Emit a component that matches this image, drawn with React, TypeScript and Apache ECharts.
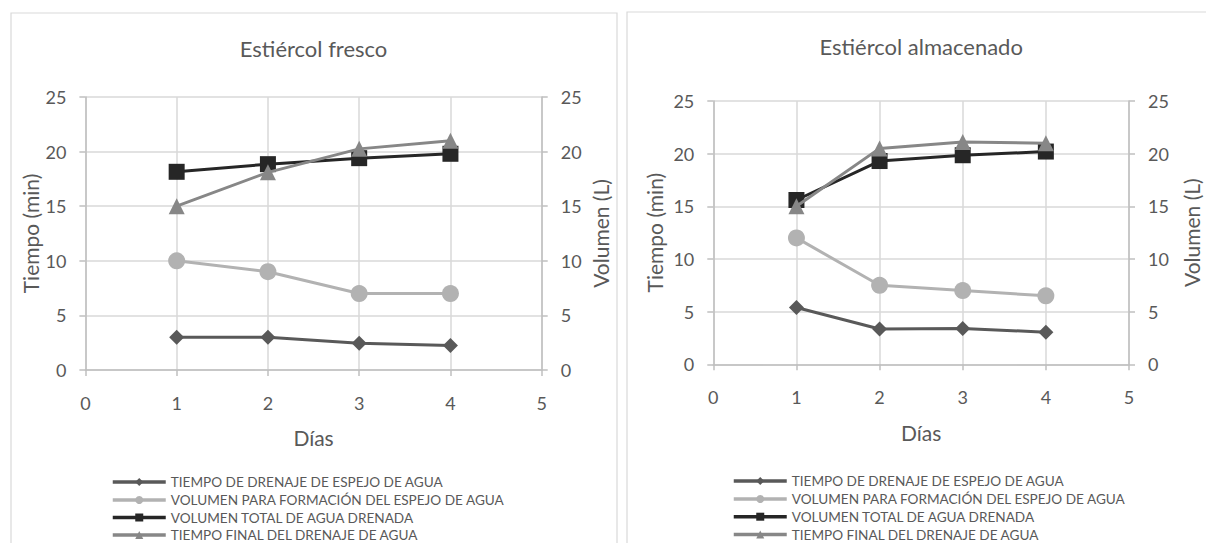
import React, { useEffect, useRef } from "react";
import * as echarts from "echarts";

const days = [1, 2, 3, 4];
const seriesNames = [
  "TIEMPO DE DRENAJE DE ESPEJO DE AGUA",
  "VOLUMEN PARA FORMACIÓN DEL ESPEJO DE AGUA",
  "VOLUMEN TOTAL DE AGUA DRENADA",
  "TIEMPO FINAL DEL DRENAJE DE AGUA",
];
const chartTitles = ["Estiércol fresco", "Estiércol almacenado"];
const xTickLabels = [0, 1, 2, 3, 4, 5];

// Estiércol fresco
const frescoTiempoDrenaje = [3, 3, 2.45, 2.25];
const frescoVolumenEspejo = [10, 9, 7, 7];
const frescoVolumenTotal = [18.15, 18.85, 19.4, 19.8];
const frescoTiempoFinal = [15, 18.1, 20.25, 21.0];

// Estiércol almacenado
const almacTiempoDrenaje = [5.4, 3.35, 3.4, 3.05];
const almacVolumenEspejo = [12, 7.5, 7, 6.5];
const almacVolumenTotal = [15.6, 19.3, 19.85, 20.2];
const almacTiempoFinal = [15, 20.5, 21.1, 21.0];

const FONT = "Lato, 'Open Sans', sans-serif";
const TEXT = "#595959";
const AXIS = "#bfbfbf";
const GRID = "#d9d9d9";

const colors = ["#595959", "#b2b2b2", "#262626", "#878787"];
const symbols = ["diamond", "circle", "rect", "triangle"];
const symbolSizes = [15, 17, 16, 16];
// time series on left axis, volume series on right axis
const yAxisSide = [0, 1, 1, 0];

export default function App() {
  const ref = useRef<HTMLDivElement>(null);

  useEffect(() => {
    if (!ref.current) return;
    const chart = echarts.init(ref.current, undefined, { renderer: "svg" });

    const grids = [
      { left: 85.4, top: 97, width: 456.3, height: 273 },
      { left: 713.3, top: 101, width: 415.7, height: 263.3 },
    ];
    const xNameGap = [57, 58];
    const xLabelMargin = [24, 24];
    const yNameGapL = [44, 48];
    const yNameGapR = [48, 52];

    const xAxis: any[] = [];
    const yAxis: any[] = [];
    grids.forEach((g, i) => {
      xAxis.push({
        gridIndex: i,
        type: "value",
        min: 0,
        max: 5,
        interval: 1,
        name: "Días",
        nameLocation: "middle",
        nameGap: xNameGap[i],
        nameTextStyle: { fontFamily: FONT, fontSize: 21, color: TEXT },
        axisLine: { show: true, onZero: false, lineStyle: { color: AXIS, width: 1.5 } },
        axisTick: { show: true, length: 6, lineStyle: { color: AXIS, width: 1.5 } },
        axisLabel: {
          margin: xLabelMargin[i],
          fontFamily: FONT,
          fontSize: 18,
          color: TEXT,
          formatter: (v: number) => String(xTickLabels[Math.round(v)]),
        },
        splitLine: { show: true, lineStyle: { color: GRID, width: 1.5 } },
      });
      yAxis.push({
        gridIndex: i,
        type: "value",
        position: "left",
        min: 0,
        max: 25,
        interval: 5,
        name: "Tiempo (min)",
        nameLocation: "middle",
        nameGap: yNameGapL[i],
        nameTextStyle: { fontFamily: FONT, fontSize: 21, color: TEXT },
        axisLine: { show: true, lineStyle: { color: AXIS, width: 1.5 } },
        axisTick: { show: true, length: 6, lineStyle: { color: AXIS, width: 1.5 } },
        axisLabel: { margin: 19, fontFamily: FONT, fontSize: 18, color: TEXT },
        splitLine: { show: true, lineStyle: { color: GRID, width: 1.5 } },
      });
      yAxis.push({
        gridIndex: i,
        type: "value",
        position: "right",
        min: 0,
        max: 25,
        interval: 5,
        name: "Volumen (L)",
        nameLocation: "middle",
        nameGap: yNameGapR[i],
        nameTextStyle: { fontFamily: FONT, fontSize: 21, color: TEXT },
        axisLine: { show: true, lineStyle: { color: AXIS, width: 1.5 } },
        axisTick: { show: true, length: 6, lineStyle: { color: AXIS, width: 1.5 } },
        axisLabel: { margin: 19, fontFamily: FONT, fontSize: 18, color: TEXT },
        splitLine: { show: false },
      });
    });

    const dataSets = [
      [frescoTiempoDrenaje, frescoVolumenEspejo, frescoVolumenTotal, frescoTiempoFinal],
      [almacTiempoDrenaje, almacVolumenEspejo, almacVolumenTotal, almacTiempoFinal],
    ];
    const series: any[] = [];
    dataSets.forEach((set, gi) => {
      set.forEach((vals, si) => {
        series.push({
          type: "line",
          name: seriesNames[si],
          xAxisIndex: gi,
          yAxisIndex: gi * 2 + yAxisSide[si],
          data: days.map((d, k) => [d, vals[k]]),
          symbol: symbols[si],
          symbolSize: symbolSizes[si],
          showAllSymbol: true,
          lineStyle: { color: colors[si], width: 3 },
          itemStyle: { color: colors[si] },
          z: 2 + si,
        });
      });
    });

    // one legend component per entry, so that rows never wrap into columns
    const legendLeft = [111, 732];
    const legendRowCenters = [
      [482, 500, 517.5, 535],
      [481, 499, 516.7, 534.5],
    ];
    const legends: any[] = [];
    legendLeft.forEach((lx, gi) => {
      seriesNames.forEach((name, si) => {
        legends.push({
          orient: "horizontal",
          left: lx,
          top: legendRowCenters[gi][si] - 8.8,
          padding: 0,
          itemWidth: 53,
          itemHeight: 10,
          itemGap: 0,
          selectedMode: false,
          lineStyle: { width: 3.5 },
          textStyle: { fontFamily: FONT, fontSize: 13.6, color: TEXT, lineHeight: 17.6 },
          data: [name],
        });
      });
    });

    const centers = grids.map((g) => g.left + g.width / 2);

    chart.setOption({
      animation: false,
      backgroundColor: "#ffffff",
      grid: grids,
      xAxis,
      yAxis,
      series,
      legend: legends,
      graphic: [
        {
          type: "rect",
          shape: { x: 11, y: 13, width: 606, height: 600 },
          style: { fill: "none", stroke: GRID, lineWidth: 1.2 },
          silent: true,
        },
        {
          type: "rect",
          shape: { x: 627, y: 12, width: 620, height: 600 },
          style: { fill: "none", stroke: GRID, lineWidth: 1.2 },
          silent: true,
        },
        {
          type: "text",
          x: centers[0],
          y: 48,
          style: {
            text: chartTitles[0],
            fontFamily: FONT,
            fontSize: 22,
            fill: TEXT,
            textAlign: "center",
            textVerticalAlign: "middle",
          },
        },
        {
          type: "text",
          x: centers[1],
          y: 46,
          style: {
            text: chartTitles[1],
            fontFamily: FONT,
            fontSize: 22,
            fill: TEXT,
            textAlign: "center",
            textVerticalAlign: "middle",
          },
        },
      ],
    });

    return () => chart.dispose();
  }, []);

  return (
    <div
      ref={ref}
      style={{ position: "fixed", left: 0, top: 0, width: 1206, height: 543, background: "#fff" }}
    />
  );
}
